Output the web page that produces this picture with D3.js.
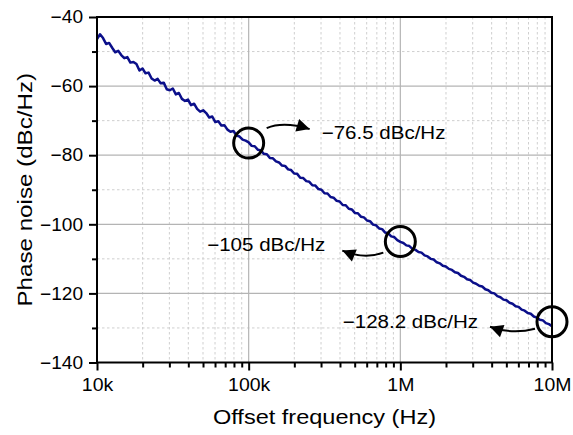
<!DOCTYPE html>
<html>
<head>
<meta charset="utf-8">
<script src="https://cdn.jsdelivr.net/npm/d3@7/dist/d3.min.js"></script>
<style>
  html, body { margin: 0; padding: 0; background: #fff; }
  svg { display: block; font-family: "Liberation Sans", Arial, Helvetica, sans-serif; }
</style>
</head>
<body>
<svg id="chart" width="573" height="435"></svg>
<script>
// Sweep points within one decade (mantissa of the offset frequency)
const decadeMantissa = [1.000, 1.047, 1.096, 1.148, 1.202, 1.259, 1.318, 1.380, 1.445, 1.514,
  1.585, 1.660, 1.738, 1.820, 1.905, 1.995, 2.089, 2.188, 2.291, 2.399,
  2.512, 2.630, 2.754, 2.884, 3.020, 3.162, 3.311, 3.467, 3.631, 3.802,
  3.981, 4.169, 4.365, 4.571, 4.786, 5.012, 5.248, 5.495, 5.754, 6.026,
  6.310, 6.607, 6.918, 7.244, 7.586, 7.943, 8.318, 8.710, 9.120, 9.550];
const decadeStarts = [1e4, 1e5, 1e6];
const sweepStopHz = 1e7;

// Measured phase noise (dBc/Hz), one array per decade
const noise10k = [-46.4, -45.0, -46.1, -47.8, -47.5, -48.9, -50.2, -49.8, -51.0, -51.9,
  -51.6, -53.2, -53.0, -53.6, -55.5, -54.9, -56.3, -56.1, -57.8, -58.4,
  -57.9, -59.2, -59.0, -60.9, -61.2, -60.7, -62.4, -62.0, -63.7, -64.3,
  -63.9, -65.5, -65.1, -66.6, -67.4, -67.0, -67.8, -69.1, -68.8, -70.4,
  -70.2, -71.4, -71.3, -72.6, -73.2, -73.0, -74.3, -74.6, -75.5, -75.8];
const noise100k = [-76.3, -77.3, -77.4, -78.4, -78.6, -79.6, -79.7, -80.8, -80.9, -81.8,
  -82.1, -83.0, -83.1, -84.1, -84.3, -85.3, -85.4, -86.5, -86.6, -87.5,
  -87.7, -88.7, -88.8, -89.8, -90.0, -91.0, -91.1, -92.1, -92.3, -93.2,
  -93.4, -94.4, -94.5, -95.5, -95.7, -96.7, -96.8, -97.8, -98.0, -98.9,
  -99.1, -100.1, -100.3, -101.2, -101.4, -102.4, -102.6, -103.5, -103.7, -104.6];
const noise1M = [-105.1, -105.4, -106.1, -106.3, -107.1, -107.4, -108.0, -108.2, -109.0, -109.3,
  -110.0, -110.2, -111.0, -111.3, -112.0, -112.2, -112.9, -113.2, -113.9, -114.1,
  -114.9, -115.2, -115.9, -116.1, -116.9, -117.2, -117.8, -118.0, -118.8, -119.1,
  -119.8, -120.0, -120.8, -121.1, -121.8, -122.0, -122.7, -123.0, -123.7, -123.9,
  -124.7, -125.0, -125.7, -125.9, -126.7, -127.0, -127.6, -127.8, -128.6, -128.9];
const noiseAtStop = -129.5;

// Highlighted points and their readouts
const markFreqs = [1e5, 1e6, 1e7];
const markValues = [-76.5, -105, -128.2];
const markLabels = ["\u221276.5 dBc/Hz", "\u2212105 dBc/Hz", "\u2212128.2 dBc/Hz"];

// Axis ticks
const xTickValues = [1e4, 1e5, 1e6, 1e7];
const xTickLabels = ["10k", "100k", "1M", "10M"];
const yTickValues = [-140, -120, -100, -80, -60, -40];
const yMinorValues = [-130, -110, -90, -70, -50];
const xMinorMultipliers = [2, 3, 4, 5, 6, 7, 8, 9];

(function () {
  const svg = d3.select("#chart");
  const pl = 97, pr = 552, pt = 17, pb = 362.5;
  const W = pr - pl, H = pb - pt;

  const x = d3.scaleLog().domain([1e4, 1e7]).range([pl, pr]);
  const y = d3.scaleLinear().domain([-140, -40]).range([pb, pt]);

  // Widen glyphs horizontally (the typeface is a little broader than Arial)
  const widen = (sel, k) => sel.each(function () {
    const len = this.getComputedTextLength();
    this.setAttribute("textLength", (len * k).toFixed(1));
    this.setAttribute("lengthAdjust", "spacingAndGlyphs");
  });

  const xMinorValues = [];
  decadeStarts.forEach(d => xMinorMultipliers.forEach(m => xMinorValues.push(d * m)));

  // Build the sweep table
  const series = [];
  const decadeData = [noise10k, noise100k, noise1M];
  decadeStarts.forEach((d, i) => {
    decadeMantissa.forEach((m, j) => series.push({ f: m * d, v: decadeData[i][j] }));
  });
  series.push({ f: sweepStopHz, v: noiseAtStop });

  // Grid: minor dashed, major solid
  const grid = svg.append("g");
  grid.selectAll(".gxm").data(xMinorValues).join("line")
    .attr("x1", d => x(d)).attr("x2", d => x(d)).attr("y1", pt).attr("y2", pb)
    .attr("stroke", "#cfcfcf").attr("stroke-width", 1).attr("stroke-dasharray", "2.5,2.5");
  grid.selectAll(".gym").data(yMinorValues).join("line")
    .attr("x1", pl).attr("x2", pr).attr("y1", d => y(d)).attr("y2", d => y(d))
    .attr("stroke", "#cfcfcf").attr("stroke-width", 1).attr("stroke-dasharray", "2.5,2.5");
  grid.selectAll(".gx").data(xTickValues.slice(1, -1)).join("line")
    .attr("x1", d => x(d)).attr("x2", d => x(d)).attr("y1", pt).attr("y2", pb)
    .attr("stroke", "#b4b4b4").attr("stroke-width", 1.2);
  grid.selectAll(".gy").data(yTickValues.slice(1, -1)).join("line")
    .attr("x1", pl).attr("x2", pr).attr("y1", d => y(d)).attr("y2", d => y(d))
    .attr("stroke", "#b4b4b4").attr("stroke-width", 1.2);

  // Phase noise trace
  const line = d3.line().x(d => x(d.f)).y(d => y(d.v));
  svg.append("path").datum(series)
    .attr("d", line)
    .attr("fill", "none")
    .attr("stroke", "#0b0f8a")
    .attr("stroke-width", 2.5)
    .attr("stroke-linejoin", "round");

  // Axes
  const axisStyle = g => {
    g.selectAll(".domain").remove();
    g.selectAll(".tick line").attr("stroke", "#000").attr("stroke-width", 2);
    g.selectAll(".tick text").attr("fill", "#000").attr("font-size", 18)
      .attr("font-family", "'Liberation Sans', Arial, sans-serif");
  };
  const yAxis = svg.append("g").attr("transform", `translate(${pl},0)`)
    .call(d3.axisLeft(y).tickValues(yTickValues).tickSize(8).tickPadding(6)
      .tickFormat(d => d3.format("")(d).replace("-", "\u2212")))
    .call(axisStyle);
  svg.append("g").attr("transform", `translate(${pl},0)`)
    .call(d3.axisLeft(y).tickValues(yMinorValues).tickSize(5).tickFormat(""))
    .call(axisStyle);
  const xAxis = svg.append("g").attr("transform", `translate(0,${pb})`)
    .call(d3.axisBottom(x).tickValues(xTickValues).tickSize(8).tickPadding(8)
      .tickFormat((d, i) => xTickLabels[i]))
    .call(axisStyle);
  svg.append("g").attr("transform", `translate(0,${pb})`)
    .call(d3.axisBottom(x).tickValues(xMinorValues).tickSize(5).tickFormat(""))
    .call(axisStyle);
  widen(yAxis.selectAll(".tick text"), 1.06);
  widen(xAxis.selectAll(".tick text"), 1.08);

  // Frame
  svg.append("rect").attr("x", pl).attr("y", pt).attr("width", W).attr("height", H)
    .attr("fill", "none").attr("stroke", "#000").attr("stroke-width", 2);

  // Axis titles
  svg.append("text").attr("x", (pl + pr) / 2).attr("y", 424)
    .attr("text-anchor", "middle").attr("font-size", 21).attr("fill", "#000")
    .text("Offset frequency (Hz)")
    .call(widen, 1.12);
  svg.append("text")
    .attr("transform", `translate(32,${(pt + pb) / 2}) rotate(-90)`)
    .attr("text-anchor", "middle").attr("font-size", 21).attr("fill", "#000")
    .text("Phase noise (dBc/Hz)")
    .call(widen, 1.15);

  // Arrow head marker
  svg.append("defs").append("marker")
    .attr("id", "head").attr("markerUnits", "userSpaceOnUse")
    .attr("viewBox", "-14 -8 16 16").attr("refX", 0).attr("refY", 0)
    .attr("markerWidth", 16).attr("markerHeight", 16).attr("orient", "auto")
    .append("path").attr("d", "M0,0 L-13,-6.5 L-13,6.5 Z").attr("fill", "#000");

  // Callouts: circle, curved arrow and readout, placed relative to each point
  const callouts = [
    { start: [18, -15], ctrl: [35, -22], tip: [61, -14], text: [73, -4], anchor: "start" },
    { start: [-17, 11], ctrl: [-36, 18], tip: [-58, 9], text: [-75, 9], anchor: "end" },
    { start: [-17, 7], ctrl: [-40, 13], tip: [-62, 5], text: [-74, 6], anchor: "end" }
  ];
  const ann = svg.append("g");
  markFreqs.forEach((f, i) => {
    const cx = x(f), cy = y(markValues[i]);
    const c = callouts[i];
    ann.append("circle").attr("cx", cx).attr("cy", cy).attr("r", 15)
      .attr("fill", "none").attr("stroke", "#000").attr("stroke-width", 3);
    ann.append("path")
      .attr("d", `M${cx + c.start[0]},${cy + c.start[1]} Q${cx + c.ctrl[0]},${cy + c.ctrl[1]} ${cx + c.tip[0]},${cy + c.tip[1]}`)
      .attr("fill", "none").attr("stroke", "#000").attr("stroke-width", 2)
      .attr("marker-end", "url(#head)");
    ann.append("text").attr("x", cx + c.text[0]).attr("y", cy + c.text[1])
      .attr("text-anchor", c.anchor).attr("font-size", 18).attr("fill", "#000")
      .text(markLabels[i])
      .call(widen, 1.14);
  });
})();
</script>
</body>
</html>
